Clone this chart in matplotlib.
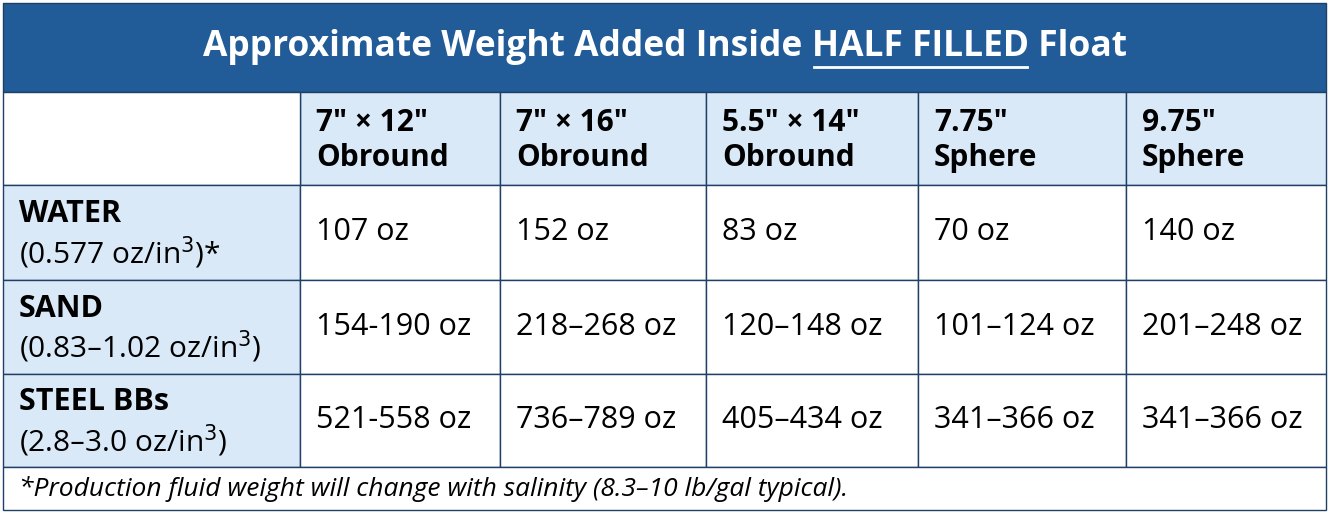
import matplotlib
matplotlib.use("Agg")
import matplotlib.pyplot as plt
from matplotlib.patches import Rectangle

title_pre = "Approximate Weight Added Inside "
title_ul = "HALF FILLED"
title_post = " Float"
columns = ['7" × 12"\nObround', '7" × 16"\nObround', '5.5" × 14"\nObround', '7.75"\nSphere', '9.75"\nSphere']
row_names = ["WATER", "SAND", "STEEL BBs"]
row_units = ["(0.577 oz/in$^3$)*", "(0.83–1.02 oz/in$^3$)", "(2.8–3.0 oz/in$^3$)"]
values = [
    ["107 oz", "152 oz", "83 oz", "70 oz", "140 oz"],
    ["154-190 oz", "218–268 oz", "120–148 oz", "101–124 oz", "201–248 oz"],
    ["521-558 oz", "736–789 oz", "405–434 oz", "341–366 oz", "341–366 oz"],
]
footnote = "*Production fluid weight will change with salinity (8.3–10 lb/gal typical)."

plt.rcParams['font.family'] = ['Open Sans', 'DejaVu Sans']
W, H = 1330, 514
fig = plt.figure(figsize=(W/100, H/100), dpi=100)
ax = fig.add_axes([0, 0, 1, 1])
ax.set_xlim(0, W); ax.set_ylim(H, 0); ax.axis('off')

dark = '#215C98'; light = '#DAE9F7'; border = '#1F3F66'
xs = [3, 300, 500, 706, 918, 1126, 1326]
ys = [3, 92, 185, 280, 374, 467, 510]

ax.add_patch(Rectangle((xs[0], ys[0]), xs[-1]-xs[0], ys[1]-ys[0], fc=dark, ec=border, lw=1))
for i in range(1, 6):
    ax.add_patch(Rectangle((xs[i], ys[1]), xs[i+1]-xs[i], ys[2]-ys[1], fc=light, ec=border, lw=1))
ax.add_patch(Rectangle((xs[0], ys[1]), xs[1]-xs[0], ys[2]-ys[1], fc='white', ec=border, lw=1))
for r in range(3):
    y0, y1 = ys[r+2], ys[r+3]
    ax.add_patch(Rectangle((xs[0], y0), xs[1]-xs[0], y1-y0, fc=light, ec=border, lw=1))
    for c in range(5):
        ax.add_patch(Rectangle((xs[c+1], y0), xs[c+2]-xs[c+1], y1-y0, fc='white', ec=border, lw=1))
ax.add_patch(Rectangle((xs[0], ys[5]), xs[-1]-xs[0], ys[6]-ys[5], fc='white', ec=border, lw=1))

fig.canvas.draw()
r = fig.canvas.get_renderer()
parts = [title_pre, title_ul, title_post]
kw = dict(color='white', fontsize=25.5, fontweight='bold', va='center', ha='left')
widths = []
for p in parts:
    t = ax.text(0, -100, p, **kw)
    widths.append(t.get_window_extent(r).width)
    t.remove()
total = sum(widths)
x = (W - total) / 2
ty = 47
for p, w in zip(parts, widths):
    ax.text(x, ty, p, **kw)
    if p == title_ul:
        ax.plot([x + 2, x + w - 2], [ty + 20, ty + 20], color='white', lw=2)
    x += w

for c, col in enumerate(columns):
    ax.text(xs[c+1] + 16, (ys[1]+ys[2])/2 + 2, col, fontsize=21.5, fontweight='bold', va='center', ha='left', linespacing=1.25)
for rr in range(3):
    yc = (ys[rr+2] + ys[rr+3]) / 2
    ax.text(19, yc - 18, row_names[rr], fontsize=22, fontweight='bold', va='center', ha='left')
    ax.text(19, yc + 20, row_units[rr], fontsize=21.5, va='center', ha='left')
    for c in range(5):
        ax.text(xs[c+1] + 16, yc, values[rr][c], fontsize=22, va='center', ha='left')

ax.text(19, (ys[5]+ys[6])/2, footnote, fontsize=19, style='italic', va='center', ha='left')
fig.savefig('out.png', dpi=100)
